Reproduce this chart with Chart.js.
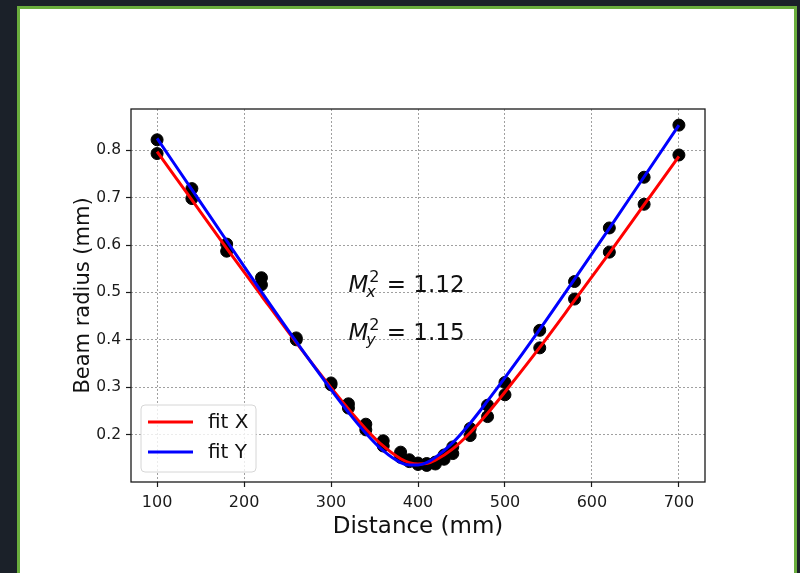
<!DOCTYPE html>
<html>
<head>
<meta charset="utf-8">
<script src="https://cdn.jsdelivr.net/npm/chart.js@4.4.1/dist/chart.umd.min.js"></script>
<style>
  html, body { margin: 0; padding: 0; width: 800px; height: 573px; overflow: hidden; background: #1b2129; }
  #frame { position: absolute; left: 17px; top: 6px; width: 774px; height: 580px; border: 3px solid #6aad3d; border-bottom: none; background: #fff; }
  #c { position: absolute; left: 0; top: 0; }
</style>
</head>
<body>
<div id="frame"></div>
<canvas id="c" width="800" height="573"></canvas>
<script>
// axis ticks
const xTicks = [100, 200, 300, 400, 500, 600, 700];
const yTicks = [0.2, 0.3, 0.4, 0.5, 0.6, 0.7, 0.8];

// measured beam radius (black dots)
const measZ = [100, 140, 180, 220, 260, 300, 320, 340, 360, 380, 390, 400, 410, 420, 430, 440, 460, 480, 500, 540, 580, 620, 660, 700];
const measX = [0.793, 0.698, 0.587, 0.516, 0.400, 0.305, 0.256, 0.210, 0.176, 0.152, 0.143, 0.137, 0.135, 0.138, 0.148, 0.160, 0.198, 0.238, 0.284, 0.383, 0.486, 0.585, 0.686, 0.790];
const measY = [0.822, 0.719, 0.602, 0.531, 0.404, 0.309, 0.265, 0.222, 0.187, 0.163, 0.147, 0.140, 0.139, 0.142, 0.157, 0.174, 0.213, 0.262, 0.310, 0.420, 0.523, 0.636, 0.743, 0.853];

// fitted curves
const fitZ = [100, 140, 180, 220, 260, 300, 320, 340, 360, 380, 390, 400, 410, 420, 440, 460, 480, 500, 540, 580, 620, 660, 700];
const fitX = [0.797, 0.695, 0.593, 0.493, 0.394, 0.299, 0.254, 0.212, 0.176, 0.149, 0.141, 0.138, 0.139, 0.146, 0.170, 0.204, 0.245, 0.290, 0.384, 0.483, 0.583, 0.685, 0.787];
const fitY = [0.825, 0.717, 0.609, 0.501, 0.396, 0.295, 0.247, 0.203, 0.166, 0.141, 0.136, 0.136, 0.141, 0.152, 0.183, 0.224, 0.271, 0.320, 0.422, 0.528, 0.635, 0.744, 0.853];

const fitLabels = ['fit X', 'fit Y'];
const fitColors = ['#ff0000', '#0000ff'];
const mAxes = ['x', 'y'];
const mValues = [1.12, 1.15];

const FONT = "'DejaVu Sans'";
Chart.defaults.font.family = FONT;
Chart.defaults.color = '#1a1a1a';

const pts = (xs, ys) => xs.map((v, i) => ({ x: v, y: ys[i] }));

const overlay = {
  id: 'overlay',
  afterDatasetsDraw(chart) {
    const { ctx, chartArea: a, scales: { x, y } } = chart;
    ctx.save();
    // axes box
    ctx.strokeStyle = '#1a1a1a';
    ctx.lineWidth = 1.3;
    ctx.strokeRect(a.left, a.top, a.right - a.left, a.bottom - a.top);

    // M^2 text
    ctx.fillStyle = '#111';
    ctx.textBaseline = 'alphabetic';
    ctx.textAlign = 'left';
    const textY = [0.5, 0.4];
    mAxes.forEach((ax, i) => {
      const px = x.getPixelForValue(320);
      const py = y.getPixelForValue(textY[i]);
      ctx.font = 'italic 23px ' + FONT;
      ctx.fillText('M', px, py);
      const mw = ctx.measureText('M').width;
      ctx.font = '16px ' + FONT;
      ctx.fillText('2', px + mw + 1, py - 10);
      const w2 = ctx.measureText('2').width;
      ctx.font = 'italic 16px ' + FONT;
      ctx.fillText(ax, px + mw - 2, py + 5);
      const wa = ctx.measureText(ax).width;
      const sw = Math.max(w2 + 1, wa - 2);
      ctx.font = '23px ' + FONT;
      ctx.fillText(' = ' + mValues[i].toFixed(2), px + mw + sw, py);
    });

    // legend box
    const lx = a.left + 10, lw = 115, lh = 67, ly = a.bottom - 10 - lh;
    ctx.beginPath();
    ctx.roundRect(lx, ly, lw, lh, 4);
    ctx.fillStyle = 'rgba(255,255,255,0.8)';
    ctx.fill();
    ctx.strokeStyle = '#d6d6d6';
    ctx.lineWidth = 1;
    ctx.stroke();
    ctx.font = '20px ' + FONT;
    ctx.textBaseline = 'middle';
    fitLabels.forEach((lab, i) => {
      const yy = ly + 17 + i * 30;
      ctx.strokeStyle = fitColors[i];
      ctx.lineWidth = 3;
      ctx.beginPath();
      ctx.moveTo(lx + 7, yy);
      ctx.lineTo(lx + 52, yy);
      ctx.stroke();
      ctx.fillStyle = '#111';
      ctx.fillText(lab, lx + 67, yy + 1);
    });
    ctx.restore();
  }
};

new Chart(document.getElementById('c'), {
  type: 'scatter',
  data: {
    datasets: [
      { label: 'meas X', data: pts(measZ, measX), backgroundColor: '#000', borderColor: '#000', pointRadius: 6, showLine: false, order: 3 },
      { label: 'meas Y', data: pts(measZ, measY), backgroundColor: '#000', borderColor: '#000', pointRadius: 6, showLine: false, order: 2 },
      { label: fitLabels[0], data: pts(fitZ, fitX), borderColor: fitColors[0], borderWidth: 3, pointRadius: 0, showLine: true, cubicInterpolationMode: 'monotone', order: 1 },
      { label: fitLabels[1], data: pts(fitZ, fitY), borderColor: fitColors[1], borderWidth: 3, pointRadius: 0, showLine: true, cubicInterpolationMode: 'monotone', order: 0 }
    ]
  },
  options: {
    responsive: false,
    animation: false,
    layout: { padding: { left: 0, top: 109, right: 95, bottom: 0 } },
    plugins: { legend: { display: false }, tooltip: { enabled: false } },
    scales: {
      x: {
        type: 'linear', min: 70, max: 730,
        afterBuildTicks: s => { s.ticks = xTicks.map(v => ({ value: v })); },
        afterFit: s => { s.height = 91; },
        grid: { color: '#a0a0a0', lineWidth: 1, borderDash: [2, 2], tickLength: 5, tickColor: '#1a1a1a', tickWidth: 1.2, tickBorderDash: [] },
        border: { display: false, dash: [2, 2] },
        ticks: { padding: 6, font: { size: 16 }, color: '#1a1a1a', maxRotation: 0 },
        title: { display: true, text: 'Distance (mm)', font: { size: 23 }, color: '#111', padding: { top: 0, bottom: 32 } }
      },
      y: {
        type: 'linear', min: 0.1, max: 0.887,
        afterBuildTicks: s => { s.ticks = yTicks.map(v => ({ value: v })); },
        afterFit: s => { s.width = 131; },
        grid: { color: '#a0a0a0', lineWidth: 1, borderDash: [2, 2], tickLength: 5, tickColor: '#1a1a1a', tickWidth: 1.2, tickBorderDash: [] },
        border: { display: false, dash: [2, 2] },
        ticks: { padding: 5, font: { size: 15.5 }, color: '#1a1a1a', callback: v => v.toFixed(1) },
        title: { display: true, text: 'Beam radius (mm)', font: { size: 21 }, color: '#111', padding: { top: 71, bottom: 0 } }
      }
    }
  },
  plugins: [overlay]
});
</script>
</body>
</html>
